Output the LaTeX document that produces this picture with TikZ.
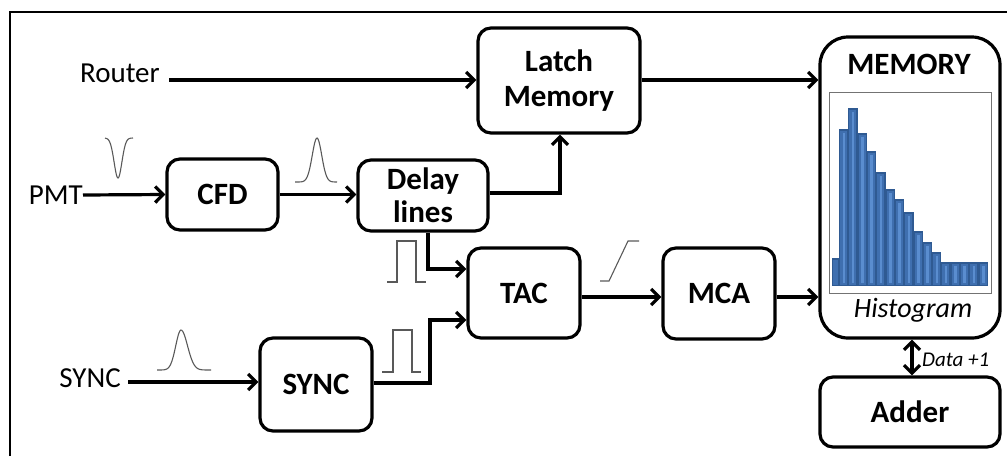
\documentclass[tikz,border=0pt]{standalone}
\usepackage{fontspec}
\setmainfont{Carlito}
\usetikzlibrary{arrows.meta}
\definecolor{barfill}{HTML}{3F6FAF}
\definecolor{barlight}{HTML}{5A8DCF}
\definecolor{baredge}{HTML}{2F5A92}
\begin{document}
\begin{tikzpicture}[x=1pt,y=-1pt,
  blk/.style={draw=black,line width=3.2pt,rounded corners=13pt,align=center,
    font=\fontsize{31}{32}\selectfont\bfseries,inner sep=0pt},
  lbl/.style={font=\fontsize{29}{31}\selectfont,inner sep=0pt},
  tip/.tip={Straight Barb[length=8pt,width=16pt,line width=3.2pt]},
  conn/.style={line width=3.2pt,-tip},
  sig/.style={draw=black!65,line width=1.1pt}
]
\useasboundingbox (0,0) rectangle (1007,456);
% frame (cropped)
\draw[line width=1.8pt] (10,456) -- (10,12) -- (1007,12);

% blocks
\node[blk,minimum width=162pt,minimum height=105pt] (latch) at (559,80.5) {Latch\\[3pt]Memory};
\node[blk,minimum width=111pt,minimum height=71pt] (cfd) at (222.5,194.5) {CFD};
\node[blk,minimum width=130pt,minimum height=71pt] (delay) at (423,195.5) {Delay\\[1pt]lines};
\node[blk,minimum width=112pt,minimum height=90pt] (tac) at (524,293) {TAC};
\node[blk,minimum width=112pt,minimum height=91pt] (mca) at (719,293.5) {MCA};
\node[blk,minimum width=112pt,minimum height=93pt] (sync) at (316,384.5) {SYNC};
\node[blk,minimum width=180pt,minimum height=301pt,rounded corners=28pt] (mem) at (910,187.5) {};
\node[blk,minimum width=180pt,minimum height=70pt] (adder) at (910,412) {Adder};
\node[font=\fontsize{31}{32}\selectfont\bfseries,inner sep=0pt] (memt) at (909,64) {MEMORY};

% histogram
\node[draw=black!55,line width=0.8pt,minimum width=162pt,minimum height=201pt,inner sep=0pt] (hist) at (910,192.5) {};
\begin{scope}[line width=1.3pt]
\filldraw[fill=barfill,draw=baredge] (832.5,259) rectangle (838.5,285.5);
\foreach \i/\h in {0/130,1/109,2/134,3/152,4/173,5/190,6/200,7/213,8/232,9/243,10/253,11/263,12/263,13/263,14/263,15/263}{
  \filldraw[fill=barfill,draw=baredge] ({839.5+\i*9.3},\h) rectangle ({839.5+\i*9.3+8.3},285.5);
  \fill[barlight] ({839.5+\i*9.3+3},{\h+3}) rectangle ({839.5+\i*9.3+5.6},283);
}
\end{scope}
\node[font=\fontsize{28}{30}\selectfont\itshape,inner sep=0pt] (histt) at (913,310) {Histogram};

% inputs
\node[lbl,anchor=east] (pmt) at (83,195) {PMT};
\node[lbl,anchor=east] (router) at (160,73) {Router};
\node[lbl,anchor=east] (synci) at (121,378) {SYNC};

% connectors
\draw[conn] (pmt.east) -- (cfd.west);
\draw[conn] (router.east|-0,80) ++(9,0) coordinate (r0) -- (latch.west|-r0);
\draw[conn] (latch.east|-0,80) -- (mem.west|-0,80);
\draw[conn] (cfd.east) -- (delay.west|-cfd.east);
\draw[conn] (delay.east|-0,193) -| (latch.south-|560,0);
\draw[conn] (delay.south-|428,0) |- (tac.west|-0,269);
\draw[conn] (synci.east|-0,382) ++(7,0) coordinate (s0) -- (sync.west|-s0);
\draw[conn] (sync.east|-0,383) -- (430,383) |- (tac.west|-0,320);
\draw[conn] (tac.east|-0,297) -- (mca.west|-0,297);
\draw[conn] (mca.east|-0,297) -- (mem.west|-0,297);
\draw[line width=3.2pt,tip-tip] (mem.south-|912,0) -- (adder.north-|912,0);
\node[font=\fontsize{21}{24}\selectfont\itshape,inner sep=0pt,anchor=west] (data) at (922,360) {Data +1};

% signal sketches
\draw[sig] plot[domain=-13:15,samples=50,smooth] ({118+\x},{138+40*exp(-(\x*\x)/30)});
\draw[sig] plot[domain=-22:20,samples=50,smooth] ({317+\x},{182-44*exp(-(\x*\x)/45)});
\draw[sig] plot[domain=-24:30,samples=60,smooth] ({181+\x},{370-40*exp(-(\x*\x)/(\x<0?55:85))});
\draw[sig] (387,282) -- (397,282) -- (397,241) -- (416,241) -- (416,282) -- (426,282);
\draw[sig] (382,372) -- (393,372) -- (393,330) -- (412,330) -- (412,372) -- (421,372);
\draw[sig] (600,281) -- (609,281) -- (628,241) -- (639,241);
\end{tikzpicture}
\end{document}
